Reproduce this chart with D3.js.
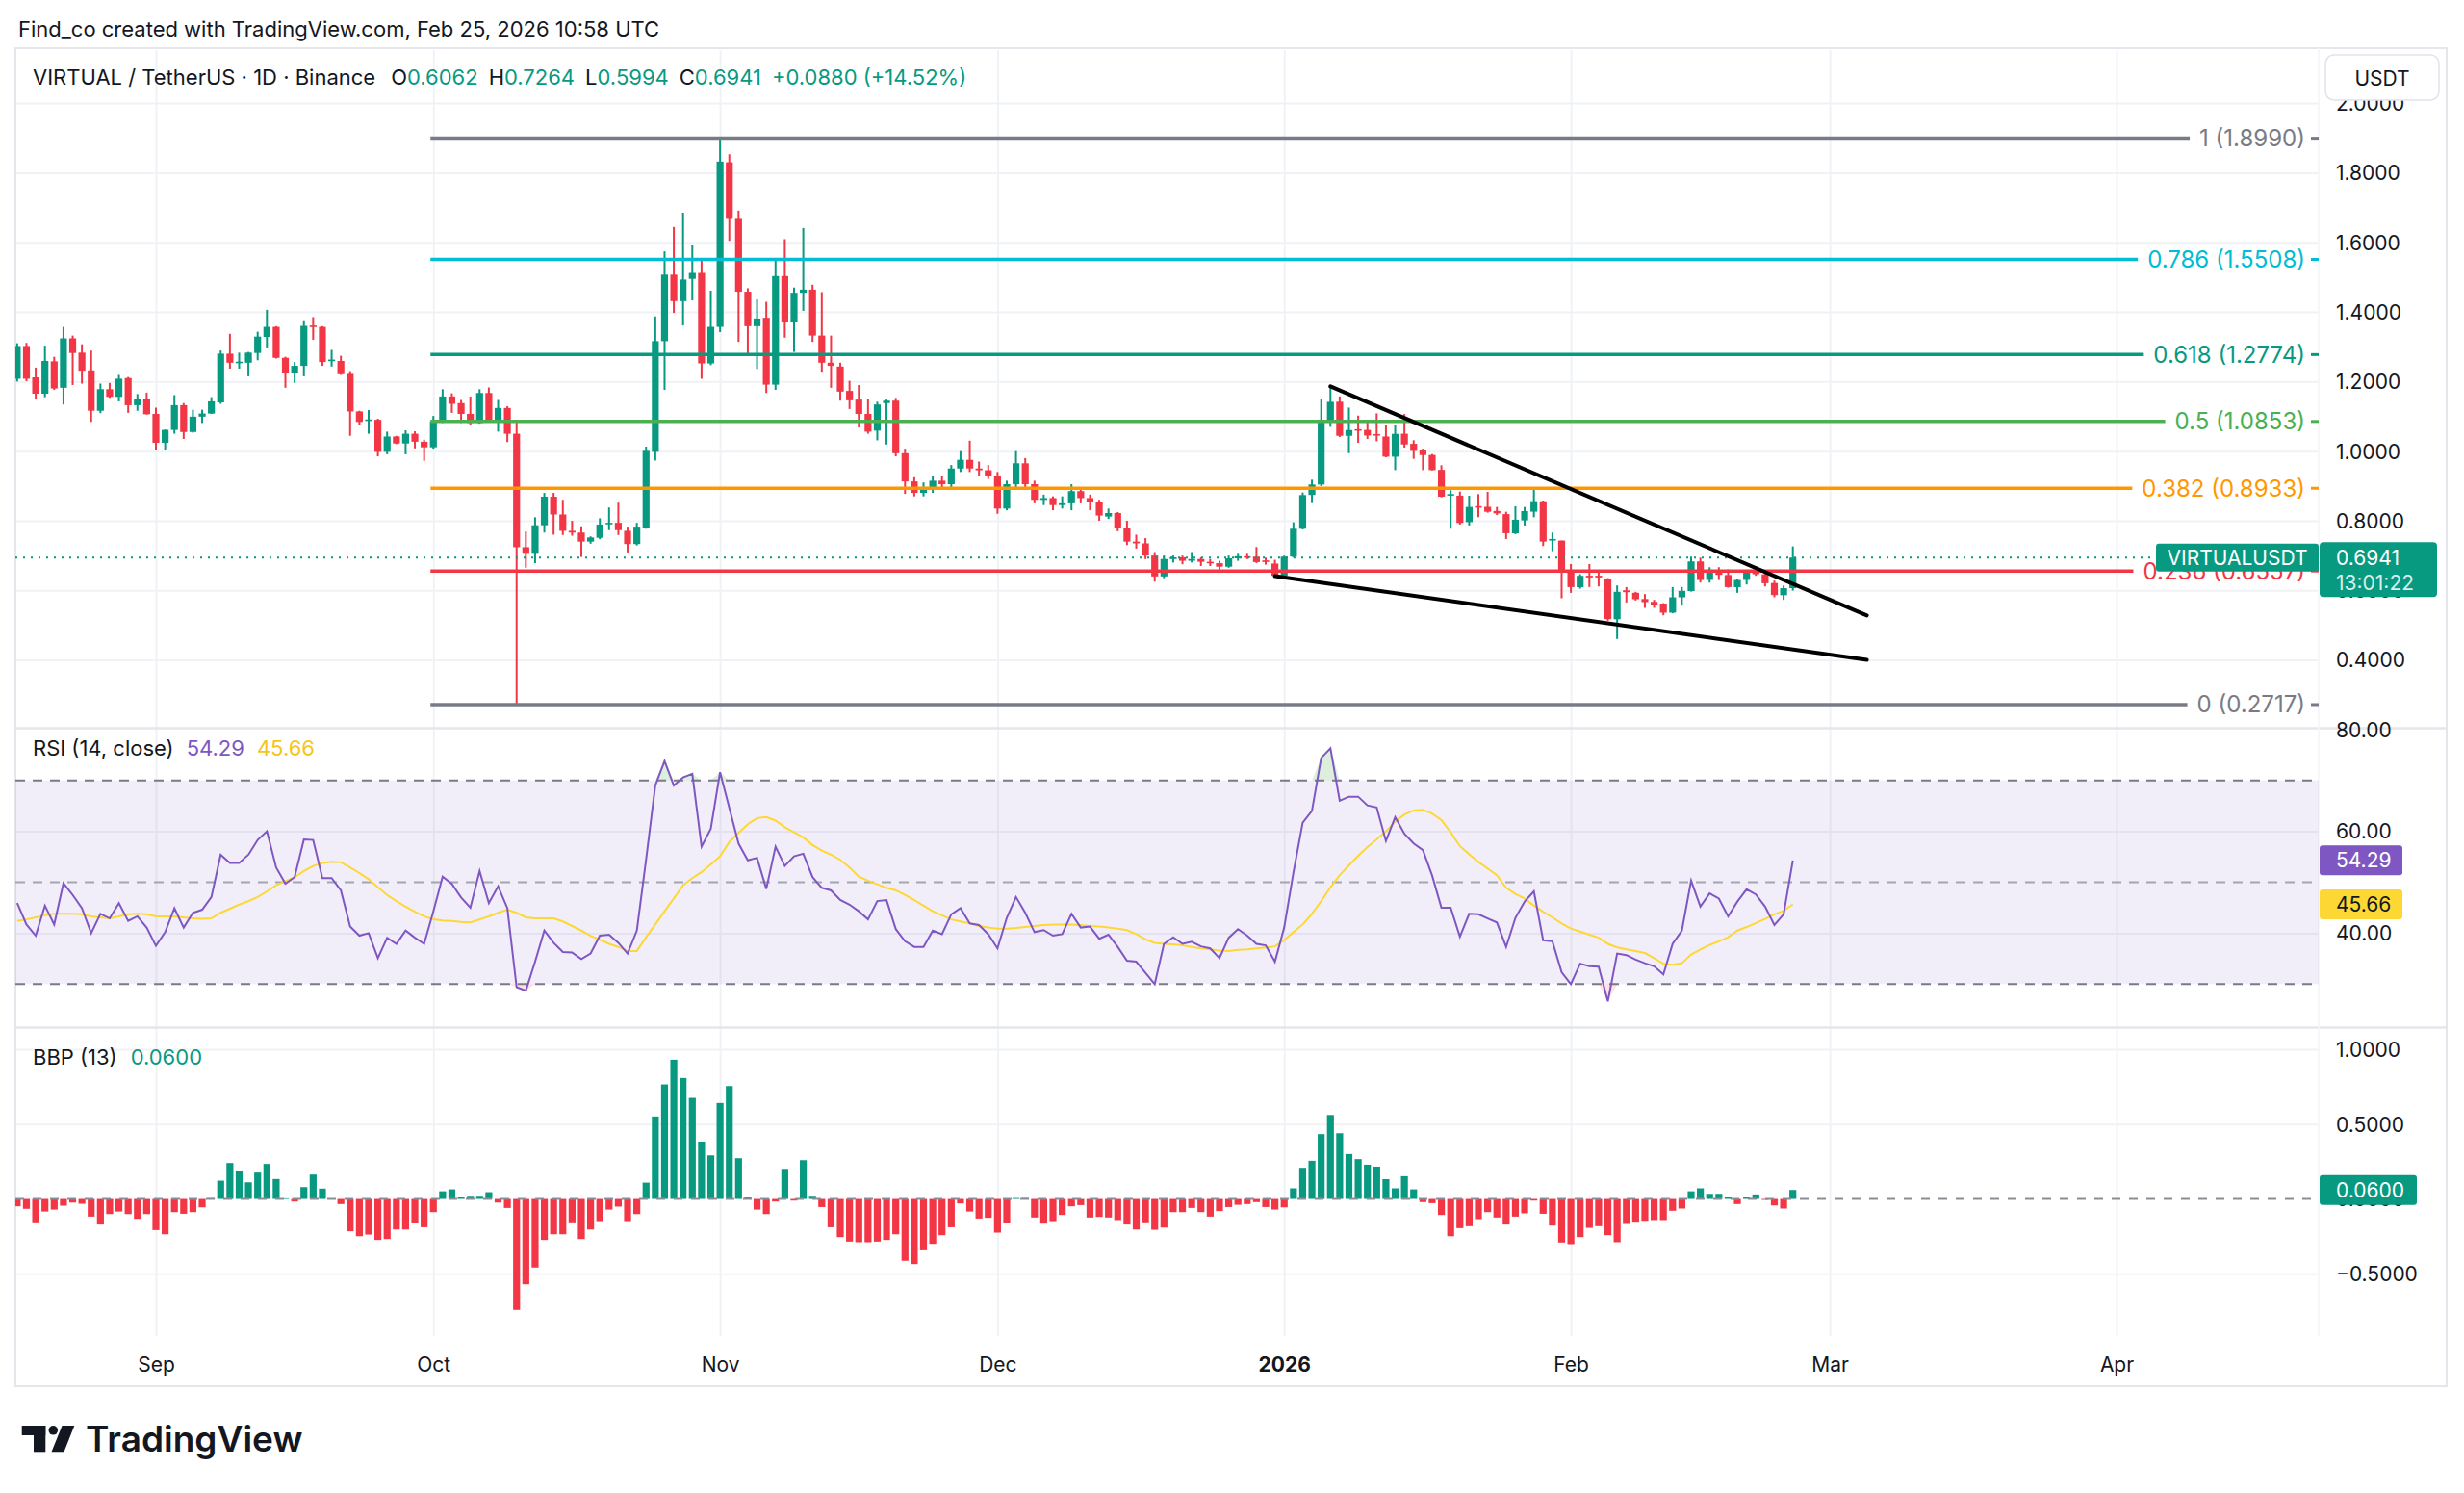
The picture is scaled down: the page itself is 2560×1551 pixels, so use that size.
<!DOCTYPE html>
<meta charset="utf-8">
<script src="https://d3js.org/d3.v7.min.js"></script>
<style>
  body { margin: 0; background: #fff; }
  svg text { font-family: Inter, "Noto Sans", sans-serif; }
</style>
<div id="chart"></div>
<script>

// ---- values (one entry per daily bar, from Aug 17 2025) ----
var firstDay = "2025-08-17";

var opens = [
  1.208,1.302,1.212,1.165,1.258,1.182,1.324,1.283,1.232,1.116,1.178,1.156,1.210,1.132,1.150,
  1.107,1.024,1.061,1.132,1.055,1.099,1.108,1.140,1.280,1.254, 1.254,1.282,1.328,1.357,1.268,1.223,1.245,1.361,1.357,1.259, 1.259,1.222,1.114,1.088,1.090,0.998,1.042,1.022,1.050,1.027,
  1.011,1.086,1.157,1.138,1.107,1.081,1.167,1.085,1.124,1.050, 0.724,0.705,0.787,0.869,0.818,0.771,0.766,0.740,0.751,0.792, 0.794,0.771,0.733,0.780,0.998,1.316,1.507,1.431,1.495,1.512, 1.252,
  1.357,1.830,1.670,1.458,1.359,1.383,1.191,1.503,1.372,1.455, 1.464,1.332,1.254,1.243,1.173,1.148,1.107,1.059,1.138,1.145, 0.994,0.913,0.880,0.890,0.915,0.905,0.950,0.975,0.950,0.945,
  0.930,0.835,0.905,0.965,0.905,0.860,0.865,0.845,0.850,0.885, 0.865,0.855,0.812,0.822,0.780,0.740,0.735,0.700,0.640,0.690, 0.695,0.685,0.690,0.682,0.678,0.668,0.692,0.698,0.697,0.686, 0.677,
  0.642,0.697,0.777,0.874,0.904,1.090,1.142,1.044,1.063,1.061, 1.049,1.042,0.984,1.050,1.021,1.003,0.989,0.946,0.873,0.872, 0.796,0.842,0.840,0.828,0.819,0.764,0.801,0.826,0.856,0.743, 0.743,
  0.651,0.609,0.642,0.642,0.633,0.517,0.600,0.593,0.575,0.567, 0.562,0.536,0.580,0.598,0.683,0.630,0.656,0.644,0.609,0.630, 0.656,0.646,0.621,0.586,0.6062
];
var highs = [
  1.310,1.311,1.240,1.303,1.271,1.357,1.332,1.307,1.289,1.194,1.196,1.219,1.213,1.164,1.168,
  1.125,1.062,1.161,1.138,1.119,1.119,1.155,1.289,1.337,1.283, 1.285,1.343,1.406,1.359,1.271,1.256,1.376,1.385,1.359,1.291, 1.274,1.230,1.116,1.118,1.093,1.056,1.044,1.060,1.057,1.033,
  1.101,1.178,1.166,1.147,1.157,1.178,1.183,1.147,1.129,1.084, 0.769,0.810,0.880,0.880,0.860,0.800,0.784,0.755,0.807,0.838, 0.852,0.783,0.794,1.013,1.387,1.574,1.644,1.685,1.593,1.551, 1.461,
  1.899,1.853,1.691,1.468,1.436,1.429,1.549,1.609,1.470,1.641, 1.478,1.457,1.332,1.254,1.202,1.190,1.151,1.142,1.148,1.153, 1.007,0.925,0.910,0.930,0.930,0.960,1.000,1.030,0.970,0.960,
  0.940,0.915,1.000,0.980,0.915,0.875,0.870,0.870,0.905,0.895, 0.875,0.860,0.835,0.825,0.800,0.760,0.750,0.710,0.700,0.700, 0.700,0.710,0.695,0.690,0.685,0.700,0.705,0.705,0.7245,0.6941, 0.6877,
  0.6997,0.7955,0.8811,0.9179,1.1481,1.190,1.1573,1.1251,1.1021,1.0883, 1.1085,1.0763,1.0763,1.1067,1.0312,1.0072,0.9916,0.9594,0.8875,0.8838, 0.8719,0.8765,0.8829,0.8396,0.8258,0.8415,0.8396,0.8949,0.8581,0.7660, 0.7430,
  0.6757,0.6463,0.6757,0.6555,0.6352,0.6140,0.6094,0.5957,0.5892,0.5726, 0.5634,0.6094,0.6094,0.6969,0.6941,0.6665,0.6665,0.6601,0.6325,0.6592, 0.6610,0.6500,0.6279,0.6140,0.7264
];
var lows = [
  1.200,1.201,1.148,1.155,1.176,1.134,1.190,1.194,1.084,1.109,1.153,1.143,1.110,1.116,1.105,
  1.004,1.004,1.050,1.035,1.053,1.081,1.107,1.136,1.237,1.237, 1.215,1.261,1.298,1.266,1.182,1.196,1.215,1.320,1.245,1.243, 1.219,1.044,1.074,1.050,0.985,0.991,1.020,0.991,1.008,0.972,
  1.007,1.081,1.110,1.081,1.074,1.079,1.083,1.056,1.026,0.2717, 0.665,0.678,0.766,0.760,0.759,0.757,0.696,0.734,0.747,0.773, 0.759,0.709,0.729,0.777,0.973,1.176,1.397,1.361,1.433,1.208, 1.247,
  1.342,1.604,1.314,1.275,1.236,1.167,1.176,1.326,1.285,1.403, 1.314,1.228,1.182,1.145,1.121,1.068,1.050,1.031,1.019,0.985, 0.877,0.870,0.870,0.880,0.890,0.890,0.940,0.940,0.930,0.920,
  0.820,0.830,0.895,0.895,0.850,0.845,0.830,0.835,0.830,0.850, 0.830,0.800,0.805,0.770,0.730,0.720,0.690,0.625,0.635,0.680, 0.675,0.680,0.670,0.670,0.660,0.665,0.685,0.690,0.6785,0.6739, 0.6389,
  0.6389,0.6941,0.7752,0.8507,0.8995,1.0699,1.0404,0.9943,1.0238,1.0349, 1.0284,0.9824,0.9455,1.0100,0.9778,0.9455,0.9445,0.8673,0.7770,0.7890, 0.7863,0.8102,0.8231,0.8166,0.7476,0.7614,0.7863,0.8102,0.7273,0.7126, 0.5772,
  0.5929,0.6048,0.6094,0.6113,0.5128,0.4603,0.5652,0.5708,0.5496,0.5496, 0.5284,0.5340,0.5560,0.5965,0.6223,0.6223,0.6297,0.6076,0.5929,0.6168, 0.6417,0.6113,0.5800,0.5726,0.5994
];
var closes = [
  1.302,1.208,1.165,1.259,1.180,1.324,1.282,1.231,1.116,1.178,1.156,1.208,1.132,1.150,1.106,
  1.024,1.061,1.132,1.055,1.099,1.108,1.143,1.280,1.254,1.257, 1.283,1.329,1.357,1.268,1.223,1.245,1.360,1.357,1.256,1.263, 1.221,1.114,1.084,1.091,0.998,1.042,1.022,1.050,1.027,1.011,
  1.086,1.157,1.136,1.107,1.081,1.167,1.085,1.124,1.050,0.724, 0.705,0.787,0.869,0.818,0.771,0.766,0.740,0.752,0.789,0.794, 0.773,0.733,0.783,1.001,1.316,1.507,1.431,1.493,1.512,1.252, 1.357,
  1.832,1.670,1.458,1.359,1.381,1.191,1.503,1.372,1.455,1.464, 1.332,1.254,1.245,1.171,1.146,1.107,1.056,1.134,1.145,0.994, 0.913,0.880,0.890,0.915,0.905,0.950,0.975,0.950,0.945,0.930,
  0.835,0.905,0.965,0.905,0.860,0.865,0.845,0.850,0.885,0.865, 0.855,0.815,0.822,0.780,0.740,0.735,0.700,0.640,0.690,0.695, 0.685,0.690,0.682,0.678,0.668,0.692,0.698,0.697,0.6813,0.6822, 0.6417,
  0.6969,0.7770,0.8737,0.9041,1.0901,1.1417,1.0441,1.0606,1.0606,1.0450, 1.0450,0.9842,1.0496,1.0192,1.0008,0.9888,0.9455,0.8691,0.8765,0.7936, 0.8396,0.8378,0.8258,0.8212,0.7641,0.8028,0.8277,0.8562,0.7402,0.7476, 0.6509,
  0.6094,0.6417,0.6371,0.6371,0.5174,0.5957,0.5947,0.5745,0.5662,0.5588, 0.5358,0.5800,0.5984,0.6831,0.6297,0.6555,0.6444,0.6094,0.6297,0.6555, 0.6463,0.6205,0.5864,0.6062,0.6941
];

// RSI (14, close) and its moving average
var rsiValues = [
  45.9,41.7,39.5,45.4,41.7,49.8,47.5,44.9,40.0,43.8,42.9,45.9,42.4,43.3,41.1,
  37.5,40.2,44.9,41.1,44.0,44.6,47.1,55.4,53.8,53.8, 55.4,58.3,60.0,52.9,49.7,51.0,58.4,58.3,50.8,50.8, 48.4,41.3,39.5,40.0,35.1,39.1,37.9,40.5,39.1,37.9,
  44.3,51.1,49.7,47.0,45.0,52.2,45.9,49.2,44.9,29.4, 28.7,34.4,40.5,38.1,36.3,36.2,34.9,36.0,39.5,39.7, 38.1,36.0,40.5,54.4,69.0,73.8,69.0,70.6,71.3,57.0, 60.5,
  71.6,64.6,57.6,54.3,54.8,48.7,57.0,53.2,55.1,55.6, 51.0,48.9,48.4,46.5,45.6,44.3,42.7,46.3,46.5,40.8, 38.4,37.3,37.3,40.5,39.8,43.7,44.9,41.9,41.6,39.8,
  37.0,43.0,47.1,44.0,40.2,40.6,39.5,39.8,43.8,41.1, 41.3,38.9,39.7,37.3,34.6,34.4,32.2,30.0,37.9,39.2, 37.9,38.3,37.4,37.0,35.1,39.1,40.8,39.5,37.9,37.6, 34.4,
  41.1,51.9,61.7,64.0,74.4,76.3,66.0,66.8,66.8,65.1, 64.7,58.1,62.8,59.5,57.6,56.3,51.3,45.0,45.0,39.3, 43.8,43.7,42.9,42.1,37.3,43.0,46.2,48.2,38.6,38.4, 32.3,
  30.0,34.0,33.5,33.4,26.6,36.0,35.7,34.8,34.1,33.5, 31.9,37.9,40.5,50.3,45.2,47.8,46.8,43.3,46.2,48.6, 47.6,45.2,41.6,43.7,54.29
];
var rsiMa = [
  42.4,42.7,43.1,43.5,43.8,43.8,43.8,43.7,43.3,43.1,42.9,43.3,43.7,43.8,43.7,
  43.3,43.3,43.3,43.1,42.9,42.8,42.9,44.0,44.8,45.6, 46.3,47.1,48.2,49.4,50.2,51.0,52.2,53.2,53.8,54.0, 53.9,52.9,51.8,50.6,49.0,47.5,46.3,45.2,44.2,43.3,
  42.7,42.5,42.4,42.2,42.1,42.7,43.3,44.0,44.6,44.0, 43.1,42.9,42.9,42.9,42.3,41.4,40.5,39.5,38.7,37.9, 37.3,36.5,36.5,39.2,41.7,44.3,46.8,49.4,50.8,52.0, 53.5,
  55.1,57.9,59.7,61.4,62.6,62.8,62.1,60.8,59.8,58.8, 57.3,56.2,55.4,54.4,52.9,51.1,50.3,49.6,48.9,48.4, 47.5,46.5,45.4,44.3,43.5,42.7,42.3,41.9,41.4,41.1,
  40.9,40.9,41.0,41.2,41.4,41.6,41.7,41.7,41.7,41.6, 41.4,41.3,41.1,40.9,40.6,39.8,38.8,38.1,37.9,37.8, 37.6,37.3,37.0,36.8,36.6,36.5,36.7,36.8,37.0,37.2, 37.4,
  38.6,40.2,41.7,43.8,46.3,49.0,51.4,53.3,55.2,56.9, 58.4,60.0,61.9,63.3,64.1,64.2,63.5,62.2,59.8,57.1, 55.5,54.0,52.7,51.4,48.9,47.7,46.8,45.4,44.2,43.1, 41.9,
  40.9,40.3,39.7,39.1,37.9,37.2,36.8,36.5,36.1,35.1, 34.0,33.8,34.1,35.8,36.8,37.7,38.4,39.2,40.5,41.2, 42.0,42.8,43.7,44.4,45.66
];

// BBP (13)
var bbpValues = [
  -0.049,-0.066,-0.156,-0.084,-0.071,-0.045,-0.024,-0.032,-0.118,-0.171,-0.101,-0.084,-0.101,-0.133,-0.101,
  -0.208,-0.236,-0.088,-0.099,-0.088,-0.056,0.005,0.122,0.240,0.186, 0.111,0.176,0.234,0.133,0.004,-0.017,0.079,0.163,0.069,0.003, -0.034,-0.216,-0.249,-0.238,-0.274,-0.268,-0.204,-0.204,-0.161,-0.189,
  -0.088,0.051,0.064,0.011,0.021,0.021,0.045,-0.024,-0.060,-0.741, -0.570,-0.458,-0.274,-0.236,-0.236,-0.156,-0.268,-0.204,-0.148,-0.071, -0.051,-0.148,-0.101,0.109,0.551,0.765,0.930,0.808,0.675,0.383, 0.291,
  0.641,0.754,0.272,0.011,-0.071,-0.101,-0.017,0.201,-0.011,0.259, 0.021,-0.054,-0.189,-0.255,-0.285,-0.289,-0.289,-0.285,-0.274,-0.236, -0.413,-0.435,-0.343,-0.300,-0.242,-0.189,-0.030,-0.084,-0.131,-0.126,
  -0.225,-0.161,0.006,0.006,-0.124,-0.165,-0.148,-0.107,-0.049,-0.041, -0.124,-0.120,-0.124,-0.141,-0.171,-0.204,-0.156,-0.206,-0.191,-0.088, -0.088,-0.060,-0.088,-0.118,-0.081,-0.054,-0.039,-0.034,-0.021,-0.054, -0.071,
  -0.056,0.071,0.208,0.255,0.433,0.561,0.439,0.300,0.266,0.229, 0.216,0.132,0.071,0.152,0.064,-0.021,-0.028,-0.107,-0.249,-0.195, -0.182,-0.135,-0.088,-0.124,-0.171,-0.118,-0.096,-0.011,-0.099,-0.178, -0.291,
  -0.302,-0.255,-0.193,-0.182,-0.242,-0.289,-0.167,-0.152,-0.146,-0.141, -0.141,-0.079,-0.064,0.051,0.071,0.034,0.034,0.013,-0.034,0.011, 0.030,-0.006,-0.043,-0.064,0.060
];

// axis ticks
var monthTicks = ["2025-09-01","2025-10-01","2025-11-01","2025-12-01","2026-01-01","2026-02-01","2026-03-01","2026-04-01"];
var priceTicks = [0.4, 0.6, 0.8, 1.0, 1.2, 1.4, 1.6, 1.8, 2.0];
var rsiTicks = [40, 60, 80];
var bbpTicks = [-0.5, 0, 0.5, 1.0];

// drawings
var fibRatios = ["1", "0.786", "0.618", "0.5", "0.382", "0.236", "0"];
var fibPrices = [1.8990, 1.5508, 1.2774, 1.0853, 0.8933, 0.6557, 0.2717];
var fibStart = "2025-10-01";
var upperTrend = [["2026-01-06", 1.186], ["2026-03-05", 0.528]];
var lowerTrend = [["2025-12-31", 0.641], ["2026-03-05", 0.400]];

if (opens.length !== closes.length || highs.length !== closes.length || lows.length !== closes.length ||
    rsiValues.length !== closes.length || rsiMa.length !== closes.length || bbpValues.length !== closes.length) {
  throw new Error("length mismatch " + [opens.length, highs.length, lows.length, closes.length, rsiValues.length, rsiMa.length, bbpValues.length]);
}

// ---- layout ----
var W = 2560, H = 1551;
var left = 16, right = 2409, edge = 2542;
var mainTop = 52, mainBottom = 755, rsiTop = 758, rsiBottom = 1066, bbpTop = 1069, bbpBottom = 1388, frameTop = 50, frameBottom = 1440;

var green = "#089981", red = "#F23645", ink = "#131722", grid = "#F0F2F5", frameColor = "#E4E6EB";
var fibColors = ["#787B86", "#00BCD4", "#089981", "#4CAF50", "#FF9800", "#F23645", "#787B86"];
var rsiColor = "#7E57C2", maColor = "#FDD835";

var parseDay = d3.utcParse("%Y-%m-%d");
var start = parseDay(firstDay);
var bars = closes.map(function(c, i) {
  return {date: d3.utcDay.offset(start, i), o: opens[i], h: highs[i], l: lows[i], c: c,
          rsi: rsiValues[i], ma: rsiMa[i], bbp: bbpValues[i]};
});
var last = bars[bars.length - 1];
var months = monthTicks.map(parseDay);

var x = d3.scaleUtc().domain([parseDay("2025-09-01"), parseDay("2026-04-01")]).range([162, 2199]);
var y = d3.scaleLinear().domain([0.4, 1.8]).range([685.6, 179.4]);
var yRsi = d3.scaleLinear().domain([30, 70]).range([1022.3, 810.7]);
var yBbp = d3.scaleLinear().domain([-0.5, 1.0]).range([1323.3, 1090]);

var svg = d3.select("#chart").append("svg")
    .attr("width", W).attr("height", H).style("display", "block");
svg.append("rect").attr("width", W).attr("height", H).attr("fill", "#fff");

var defs = svg.append("defs");
defs.append("clipPath").attr("id", "mainClip").append("rect")
    .attr("x", left).attr("y", mainTop).attr("width", right - left).attr("height", mainBottom - mainTop);
defs.append("clipPath").attr("id", "plotClip").append("rect")
    .attr("x", left).attr("y", mainTop).attr("width", right - left).attr("height", bbpBottom - mainTop);

// header
svg.append("text").attr("x", 19).attr("y", 30).attr("dominant-baseline", "central")
    .style("font-size", "22px").attr("fill", ink)
    .text("Find_co created with TradingView.com, Feb 25, 2026 10:58 UTC");

// grid lines
function styleGrid(g) {
  g.select(".domain").remove();
  g.selectAll("text").remove();
  g.selectAll("line").attr("stroke", grid).attr("stroke-width", 2);
}
svg.append("g").attr("transform", "translate(0," + mainTop + ")")
    .call(d3.axisBottom(x).tickValues(months).tickSize(bbpBottom - mainTop))
    .call(styleGrid);
svg.append("g").attr("transform", "translate(" + left + ",0)")
    .call(d3.axisRight(y).tickValues(priceTicks.filter(function(v){ return y(v) > mainTop; })).tickSize(right - left))
    .call(styleGrid);
svg.append("g").attr("transform", "translate(" + left + ",0)")
    .call(d3.axisRight(yRsi).tickValues([40, 60]).tickSize(right - left))
    .call(styleGrid);
svg.append("g").attr("transform", "translate(" + left + ",0)")
    .call(d3.axisRight(yBbp).tickValues([-0.5, 0.5, 1.0]).tickSize(right - left))
    .call(styleGrid);

// frame and pane separators
svg.append("rect").attr("x", left).attr("y", frameTop).attr("width", edge - left).attr("height", frameBottom - frameTop)
    .attr("fill", "none").attr("stroke", frameColor).attr("stroke-width", 2);
[756.5, 1067.5].forEach(function(yy) {
  svg.append("line").attr("x1", left).attr("x2", edge).attr("y1", yy).attr("y2", yy)
      .attr("stroke", frameColor).attr("stroke-width", 2.5);
});
svg.append("line").attr("x1", right).attr("x2", right).attr("y1", frameTop).attr("y2", bbpBottom)
    .attr("stroke", "#F3F4F6").attr("stroke-width", 1.5);

// ---- main pane: candles ----
var candleG = svg.append("g").attr("clip-path", "url(#mainClip)");
var candle = candleG.selectAll("g").data(bars).join("g")
    .attr("transform", function(d) { return "translate(" + x(d.date) + ",0)"; });
candle.append("line")
    .attr("y1", function(d) { return y(d.h); })
    .attr("y2", function(d) { return y(d.l); })
    .attr("stroke", function(d) { return d.c >= d.o ? green : red; })
    .attr("stroke-width", 2);
candle.append("rect")
    .attr("x", -3.6).attr("width", 7.2)
    .attr("y", function(d) { return y(Math.max(d.o, d.c)); })
    .attr("height", function(d) { return Math.max(1.6, Math.abs(y(d.o) - y(d.c))); })
    .attr("fill", function(d) { return d.c >= d.o ? green : red; });

// current price line
var lastY = y(last.c);
svg.append("line").attr("x1", left).attr("x2", 2240).attr("y1", lastY).attr("y2", lastY)
    .attr("stroke", green).attr("stroke-width", 2).attr("stroke-dasharray", "2,6");

// fib retracement
var fibG = svg.append("g");
fibPrices.forEach(function(p, i) {
  var yy = y(p);
  var t = fibG.append("text").attr("x", right - 14).attr("y", yy)
      .attr("text-anchor", "end").attr("dominant-baseline", "central")
      .style("font-size", "24px").attr("fill", fibColors[i])
      .text(fibRatios[i] + " (" + d3.format(".4f")(p) + ")");
  var w = t.node().getComputedTextLength();
  fibG.append("line").attr("x1", x(parseDay(fibStart)) - 3).attr("x2", right - 14 - w - 10)
      .attr("y1", yy).attr("y2", yy).attr("stroke", fibColors[i]).attr("stroke-width", 3.5);
  fibG.append("line").attr("x1", right - 8).attr("x2", right).attr("y1", yy).attr("y2", yy)
      .attr("stroke", fibColors[i]).attr("stroke-width", 3);
});

// trend lines (falling wedge)
var trendLine = d3.line()
    .x(function(d) { return x(parseDay(d[0])); })
    .y(function(d) { return y(d[1]); });
[upperTrend, lowerTrend].forEach(function(t) {
  svg.append("path").attr("d", trendLine(t)).attr("fill", "none")
      .attr("stroke", "#000").attr("stroke-width", 4).attr("stroke-linecap", "round")
      .attr("clip-path", "url(#mainClip)");
});

// symbol label on the price line
svg.append("rect").attr("x", 2240).attr("y", lastY - 14.5).attr("width", right - 2240).attr("height", 29)
    .attr("rx", 3).attr("fill", green);
svg.append("text").attr("x", (2240 + right) / 2).attr("y", lastY).attr("text-anchor", "middle")
    .attr("dominant-baseline", "central").style("font-size", "21px").attr("fill", "#fff").text("VIRTUALUSDT");

// price axis
function axisText(g) {
  g.select(".domain").remove();
  g.selectAll("line").remove();
  g.selectAll("text").style("font-size", "21px").attr("fill", ink).attr("dy", "0.35em");
}
svg.append("g").attr("transform", "translate(" + right + ",0)")
    .call(d3.axisRight(y).tickValues(priceTicks).tickSize(0).tickPadding(18).tickFormat(d3.format(".4f")))
    .call(axisText);

svg.append("rect").attr("x", 2410).attr("y", lastY - 16).attr("width", 122).attr("height", 57)
    .attr("rx", 4).attr("fill", green);
svg.append("text").attr("x", 2427).attr("y", lastY).attr("dominant-baseline", "central")
    .style("font-size", "21px").attr("fill", "#fff").text(d3.format(".4f")(last.c));
svg.append("text").attr("x", 2427).attr("y", lastY + 26).attr("dominant-baseline", "central")
    .style("font-size", "21px").attr("fill", "#fff").attr("fill-opacity", 0.85).text("13:01:22");

// currency button
svg.append("rect").attr("x", 2416).attr("y", 57).attr("width", 118).attr("height", 47).attr("rx", 9)
    .attr("fill", "#fff").attr("stroke", "#E0E3EB").attr("stroke-width", 1.5);
svg.append("text").attr("x", 2475).attr("y", 81).attr("text-anchor", "middle").attr("dominant-baseline", "central")
    .style("font-size", "21px").attr("fill", ink).text("USDT");

// legend
var legend = svg.append("text").attr("x", 34).attr("y", 80).attr("dominant-baseline", "central")
    .style("font-size", "22px").attr("fill", ink);
legend.append("tspan").text("VIRTUAL / TetherUS · 1D · Binance");
[["O", last.o], ["H", last.h], ["L", last.l], ["C", last.c]].forEach(function(p, i) {
  legend.append("tspan").attr("dx", i === 0 ? 16 : 11).text(p[0]);
  legend.append("tspan").attr("fill", green).text(d3.format(".4f")(p[1]));
});
legend.append("tspan").attr("dx", 11).attr("fill", green).text("+0.0880 (+14.52%)");

// ---- RSI pane ----
var rsiG = svg.append("g").attr("clip-path", "url(#plotClip)");
rsiG.append("rect").attr("x", left).attr("width", right - left)
    .attr("y", yRsi(70)).attr("height", yRsi(30) - yRsi(70)).attr("fill", rsiColor).attr("fill-opacity", 0.1);
rsiG.append("path").datum(bars)
    .attr("d", d3.area().x(function(d) { return x(d.date); })
      .y0(yRsi(70)).y1(function(d) { return yRsi(Math.max(70, d.rsi)); }))
    .attr("fill", "#4CAF50").attr("fill-opacity", 0.2);
rsiG.append("path").datum(bars)
    .attr("d", d3.area().x(function(d) { return x(d.date); })
      .y0(yRsi(30)).y1(function(d) { return yRsi(Math.min(30, d.rsi)); }))
    .attr("fill", red).attr("fill-opacity", 0.15);
[[70, "#787B86"], [50, "#A3A6AF"], [30, "#787B86"]].forEach(function(b) {
  rsiG.append("line").attr("x1", left).attr("x2", right).attr("y1", yRsi(b[0])).attr("y2", yRsi(b[0]))
      .attr("stroke", b[1]).attr("stroke-width", 2).attr("stroke-dasharray", "10,8");
});
rsiG.append("path").datum(bars)
    .attr("d", d3.line().x(function(d) { return x(d.date); }).y(function(d) { return yRsi(d.ma); }))
    .attr("fill", "none").attr("stroke", maColor).attr("stroke-width", 2);
rsiG.append("path").datum(bars)
    .attr("d", d3.line().x(function(d) { return x(d.date); }).y(function(d) { return yRsi(d.rsi); }))
    .attr("fill", "none").attr("stroke", rsiColor).attr("stroke-width", 2);

svg.append("g").attr("transform", "translate(" + right + ",0)")
    .call(d3.axisRight(yRsi).tickValues(rsiTicks).tickSize(0).tickPadding(18).tickFormat(d3.format(".2f")))
    .call(axisText);
[[last.rsi, rsiColor, "#fff"], [last.ma, maColor, ink]].forEach(function(b) {
  svg.append("rect").attr("x", 2410).attr("y", yRsi(b[0]) - 15.5).attr("width", 86).attr("height", 31)
      .attr("rx", 3).attr("fill", b[1]);
  svg.append("text").attr("x", 2427).attr("y", yRsi(b[0])).attr("dominant-baseline", "central")
      .style("font-size", "21px").attr("fill", b[2]).text(d3.format(".2f")(b[0]));
});

var rsiLegend = svg.append("text").attr("x", 34).attr("y", 777).attr("dominant-baseline", "central")
    .style("font-size", "22px").attr("fill", ink);
rsiLegend.append("tspan").text("RSI (14, close)");
rsiLegend.append("tspan").attr("dx", 13).attr("fill", rsiColor).text(d3.format(".2f")(last.rsi));
rsiLegend.append("tspan").attr("dx", 13).attr("fill", "#F5C518").text(d3.format(".2f")(last.ma));

// ---- BBP pane ----
var bbpG = svg.append("g").attr("clip-path", "url(#plotClip)");
bbpG.selectAll("rect").data(bars).join("rect")
    .attr("x", function(d) { return x(d.date) - 3.6; })
    .attr("width", 7.2)
    .attr("y", function(d) { return yBbp(Math.max(0, d.bbp)); })
    .attr("height", function(d) { return Math.abs(yBbp(d.bbp) - yBbp(0)); })
    .attr("fill", function(d) { return d.bbp >= 0 ? green : red; });
svg.append("line").attr("x1", left).attr("x2", right).attr("y1", yBbp(0)).attr("y2", yBbp(0))
    .attr("stroke", "#8A8D96").attr("stroke-width", 2).attr("stroke-dasharray", "9,9");

svg.append("g").attr("transform", "translate(" + right + ",0)")
    .call(d3.axisRight(yBbp).tickValues(bbpTicks).tickSize(0).tickPadding(18).tickFormat(d3.format(".4f")))
    .call(axisText);
svg.append("rect").attr("x", 2410).attr("y", yBbp(last.bbp) - 15.5).attr("width", 101).attr("height", 31)
    .attr("rx", 3).attr("fill", green);
svg.append("text").attr("x", 2427).attr("y", yBbp(last.bbp)).attr("dominant-baseline", "central")
    .style("font-size", "21px").attr("fill", "#fff").text(d3.format(".4f")(last.bbp));

var bbpLegend = svg.append("text").attr("x", 34).attr("y", 1098).attr("dominant-baseline", "central")
    .style("font-size", "22px").attr("fill", ink);
bbpLegend.append("tspan").text("BBP (13)");
bbpLegend.append("tspan").attr("dx", 14).attr("fill", green).text(d3.format(".4f")(last.bbp));

// ---- time axis ----
svg.append("g").attr("transform", "translate(0," + bbpBottom + ")")
    .call(d3.axisBottom(x).tickValues(months).tickSize(0).tickPadding(22)
      .tickFormat(function(d) { return d.getUTCMonth() === 0 ? d3.utcFormat("%Y")(d) : d3.utcFormat("%b")(d); }))
    .call(function(g) {
      g.select(".domain").remove();
      g.selectAll("text").style("font-size", "21px").attr("fill", ink)
        .style("font-weight", function(d) { return d.getUTCMonth() === 0 ? 700 : 400; });
    });

// ---- TradingView logo ----
var logo = svg.append("g").attr("fill", ink);
logo.append("rect").attr("x", 22.7).attr("y", 1481).attr("width", 24.6).attr("height", 10);
logo.append("rect").attr("x", 35).attr("y", 1481).attr("width", 12.3).attr("height", 27.3);
logo.append("circle").attr("cx", 55.3).attr("cy", 1485.8).attr("r", 4.8);
logo.append("polygon").attr("points", "64.5,1481 77.3,1481 66.5,1508.3 53.5,1508.3");
logo.append("text").attr("x", 89).attr("y", 1508.3).style("font-size", "37px").style("font-weight", 600)
    .attr("fill", ink).text("TradingView");

</script>
